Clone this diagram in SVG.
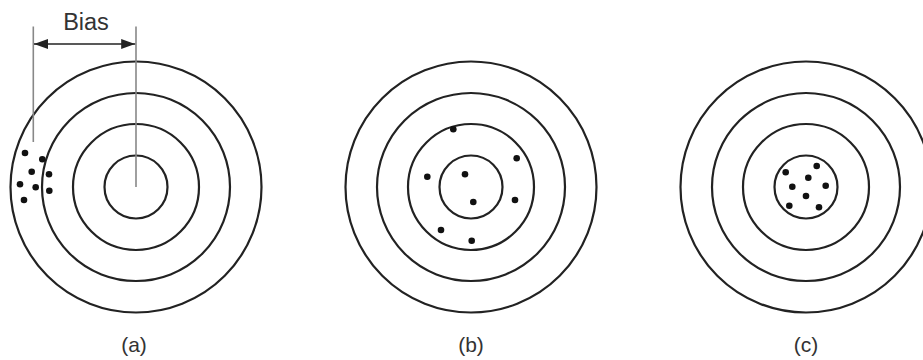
<svg xmlns="http://www.w3.org/2000/svg" width="923" height="360" viewBox="0 0 923 360">
<style>
.ring{fill:none;stroke:#222;stroke-width:2.2}
.dot{fill:#111}
.guide{stroke:#888;stroke-width:1.6;fill:none}
.dim{stroke:#222;stroke-width:1.4;fill:none}
.lbl{font-family:"Liberation Sans",Arial,sans-serif;font-size:21px;fill:#333;text-anchor:middle}
.bias{font-family:"Liberation Sans",Arial,sans-serif;font-size:23.5px;fill:#333;text-anchor:middle}
</style>
<defs>
<g id="target">
<circle class="ring" r="31.5"/>
<circle class="ring" r="63"/>
<circle class="ring" r="94"/>
<circle class="ring" r="125.5"/>
</g>
<marker id="ah" viewBox="0 0 14 10" refX="14" refY="5" markerWidth="14" markerHeight="10" markerUnits="userSpaceOnUse" orient="auto-start-reverse">
<path d="M0,0 L14,5 L0,10 Z" fill="#222"/>
</marker>
</defs>
<g id="target-a">
<use href="#target" x="136" y="187"/>
<circle class="dot" cx="25" cy="153" r="3.3"/>
<circle class="dot" cx="42.3" cy="159.3" r="3.3"/>
<circle class="dot" cx="31.7" cy="171.7" r="3.3"/>
<circle class="dot" cx="49" cy="174.3" r="3.3"/>
<circle class="dot" cx="20" cy="184.3" r="3.3"/>
<circle class="dot" cx="35.7" cy="187.3" r="3.3"/>
<circle class="dot" cx="49.3" cy="190.7" r="3.3"/>
<circle class="dot" cx="24" cy="200" r="3.3"/>
<text class="lbl" x="134" y="352">(a)</text>
</g>
<g id="bias">
<line class="guide" x1="33.3" y1="26.5" x2="33.3" y2="142"/>
<line class="guide" x1="136" y1="26.5" x2="136" y2="187"/>
<text class="bias" x="86" y="29.5">Bias</text>
</g>
<g id="target-b">
<use href="#target" x="471" y="187"/>
<circle class="dot" cx="453.3" cy="129.3" r="3.3"/>
<circle class="dot" cx="516.7" cy="158.3" r="3.3"/>
<circle class="dot" cx="427.3" cy="176.7" r="3.3"/>
<circle class="dot" cx="465" cy="174.3" r="3.3"/>
<circle class="dot" cx="473.3" cy="202" r="3.3"/>
<circle class="dot" cx="515" cy="200" r="3.3"/>
<circle class="dot" cx="441" cy="230" r="3.3"/>
<circle class="dot" cx="471.7" cy="240.7" r="3.3"/>
<text class="lbl" x="471" y="352">(b)</text>
</g>
<g id="target-c">
<use href="#target" x="806" y="187"/>
<circle class="dot" cx="785.7" cy="172.3" r="3.3"/>
<circle class="dot" cx="816.7" cy="166" r="3.3"/>
<circle class="dot" cx="808.3" cy="177.7" r="3.3"/>
<circle class="dot" cx="792.3" cy="186.7" r="3.3"/>
<circle class="dot" cx="825.7" cy="185.7" r="3.3"/>
<circle class="dot" cx="806" cy="196" r="3.3"/>
<circle class="dot" cx="789.3" cy="205.7" r="3.3"/>
<circle class="dot" cx="819" cy="207.3" r="3.3"/>
<text class="lbl" x="806" y="352">(c)</text>
</g>
<g id="connectors">
<line class="dim" x1="34" y1="44" x2="135.2" y2="44" marker-start="url(#ah)" marker-end="url(#ah)"/>
</g>
</svg>
